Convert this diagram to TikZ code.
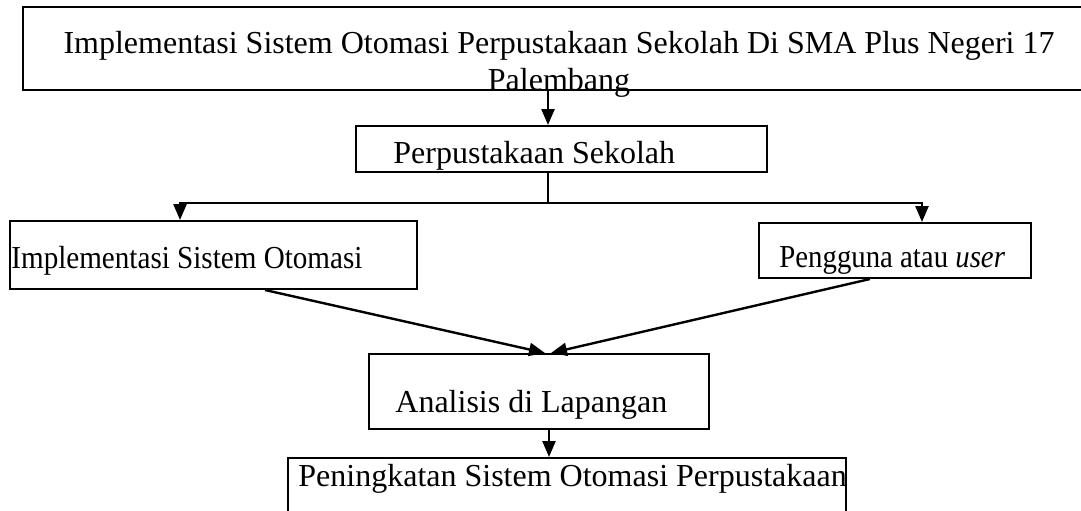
\documentclass[tikz,border=0pt]{standalone}
\usepackage{fontspec}
\usepackage{graphicx}
\setmainfont{Liberation Serif}
\usetikzlibrary{arrows.meta,fit}
\begin{document}
\begin{tikzpicture}[x=0.5pt,y=-0.5pt,
  box/.style={draw=black,line width=1pt,inner sep=0pt,fill=none},
  lbl/.style={anchor=base west,inner sep=0pt,font=\fontsize{16}{18.4}\selectfont},
  arr/.style={line width=1.2pt,-{Triangle[width=6.5pt,length=8pt]}},
  ln/.style={line width=1.2pt}]
\useasboundingbox (0,0) rectangle (1081,510);
\clip (0,0) rectangle (1081,510);
% boxes
\node[box,line width=1.3pt,fit={(23,7) (1100,90)}] (title) {};
\node[box,fit={(356,126) (767,172)}] (perp) {};
\node[box,fit={(10,221) (417,289)}] (impl) {};
\node[box,fit={(759,223) (1031,278)}] (peng) {};
\node[box,fit={(369,354) (709,429)}] (ana) {};
\node[box,fit={(288,458) (846,540)}] (ping) {};
% texts
\node[lbl,anchor=base] (t1) at (559,53) {Implementasi Sistem Otomasi Perpustakaan Sekolah Di SMA Plus Negeri 17};
\node[lbl,anchor=base] (t2) at (559,90) {Palembang};
\node[lbl] (tperp) at (393,163) {Perpustakaan Sekolah};
\node[lbl] (timpl) at (11,268) {\scalebox{0.91}[1]{Implementasi Sistem Otomasi}};
\node[lbl] (tpeng) at (779,267) {\scalebox{0.90}[1]{Pengguna atau \textit{user}}};
\node[lbl] (tana) at (395,412) {Analisis di Lapangan};
\node[lbl] (tping) at (298,486) {Peningkatan Sistem Otomasi Perpustakaan};
% connector coordinates
\coordinate (cx) at (548,0);
\coordinate (jn) at (548,203);
\coordinate (jl) at (180,203);
\coordinate (jr) at (922,203);
\coordinate (s1) at (265,0);
\coordinate (s2) at (870,0);
\coordinate (e1) at (545,0);
\coordinate (e2) at (551,0);
\coordinate (ax) at (549,0);
% connectors
\draw[arr] (title.south -| cx) -- (perp.north -| cx);
\draw[ln] (perp.south -| jn) -- (jn);
\draw[arr] (jn) -- (jl) -- (impl.north -| jl);
\draw[arr] (jn) -- (jr) -- (peng.north -| jr);
\draw[arr] (impl.south -| s1) -- (ana.north -| e1);
\draw[arr] (peng.south -| s2) -- (ana.north -| e2);
\draw[arr] (ana.south -| ax) -- (ping.north -| ax);
\end{tikzpicture}
\end{document}
